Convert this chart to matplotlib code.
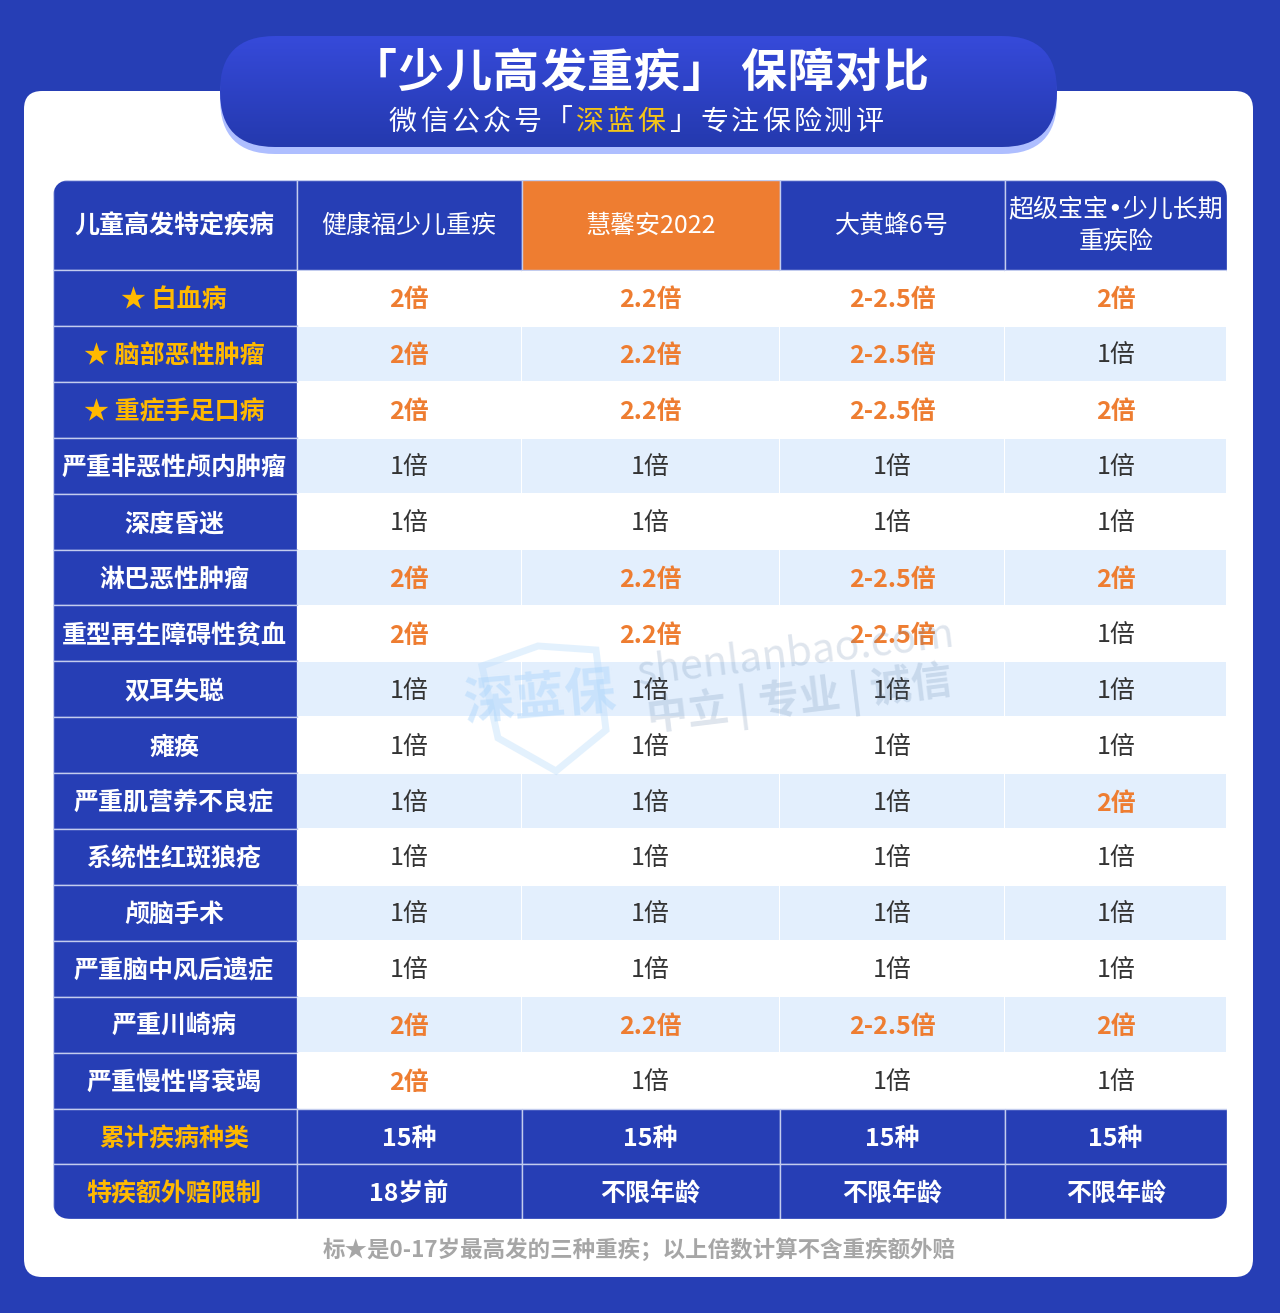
import numpy as np
import matplotlib
matplotlib.use("Agg")
import matplotlib.pyplot as plt
from matplotlib.patches import FancyBboxPatch, Rectangle, Polygon

plt.rcParams["font.family"] = ["Noto Sans CJK SC", "DejaVu Sans"]

BLUE = "#263EB5"
GOLD = "#FFB900"
ORANGE = "#EE7D31"
LIGHT = "#E3EFFD"
LINE = "#C3CCEE"

products = ["健康福少儿重疾", "慧馨安2022", "大黄蜂6号", "超级宝宝•少儿长期\n重疾险"]
corner = "儿童高发特定疾病"
diseases = ["★ 白血病", "★ 脑部恶性肿瘤", "★ 重症手足口病", "严重非恶性颅内肿瘤", "深度昏迷",
            "淋巴恶性肿瘤", "重型再生障碍性贫血", "双耳失聪", "瘫痪", "严重肌营养不良症",
            "系统性红斑狼疮", "颅脑手术", "严重脑中风后遗症", "严重川崎病", "严重慢性肾衰竭"]
col_jkf = ["2倍", "2倍", "2倍", "1倍", "1倍", "2倍", "2倍", "1倍", "1倍", "1倍", "1倍", "1倍", "1倍", "2倍", "2倍"]
col_hxa = ["2.2倍", "2.2倍", "2.2倍", "1倍", "1倍", "2.2倍", "2.2倍", "1倍", "1倍", "1倍", "1倍", "1倍", "1倍", "2.2倍", "1倍"]
col_dhf = ["2-2.5倍", "2-2.5倍", "2-2.5倍", "1倍", "1倍", "2-2.5倍", "2-2.5倍", "1倍", "1倍", "1倍", "1倍", "1倍", "1倍", "2-2.5倍", "1倍"]
col_cjbb = ["2倍", "1倍", "2倍", "1倍", "1倍", "2倍", "1倍", "1倍", "1倍", "2倍", "1倍", "1倍", "1倍", "2倍", "1倍"]
footer_labels = ["累计疾病种类", "特疾额外赔限制"]
footer_count = ["15种", "15种", "15种", "15种"]
footer_age = ["18岁前", "不限年龄", "不限年龄", "不限年龄"]
note = "标★是0-17岁最高发的三种重疾；以上倍数计算不含重疾额外赔"

x_edges = [53, 296.5, 521.5, 779.5, 1004.5, 1227]
y_head = (180, 270)
row_h = 55.9
FT = 0.72  # px -> pt at dpi 100
FS = 25 * FT

fig = plt.figure(figsize=(12.8, 13.13), dpi=100, facecolor=BLUE)
ax = fig.add_axes([0, 0, 1, 1])
ax.set_xlim(0, 1280)
ax.set_ylim(1313, 0)
ax.axis("off")


def rrect(x0, y0, x1, y1, r, **kw):
    p = FancyBboxPatch((x0 + r, y0 + r), x1 - x0 - 2 * r, y1 - y0 - 2 * r,
                       boxstyle=f"round,pad={r},rounding_size={r}", lw=kw.pop("lw", 0), **kw)
    ax.add_patch(p)
    return p


def spaced(s, x0, pitch, y, px, colors=None, weight="normal"):
    # one glyph at a time, the reference has wide letter spacing
    for i, ch in enumerate(s):
        c = colors[i] if colors else "white"
        ax.text(x0 + pitch * i, y, ch, ha="center", va="center", color=c,
                fontsize=px * FT, fontweight=weight, zorder=5)


# card + title pill
rrect(24, 91, 1253, 1277, 18, fc="white", zorder=1)
rrect(220, 43, 1057, 154, 55, fc="#AEBEFF", zorder=2)
pill = rrect(220, 36, 1057, 147, 55, fc="none", zorder=3)
grad = np.linspace(0, 1, 120)[:, None, None] * (np.array([36, 57, 174]) - np.array([54, 74, 218])) \
    + np.array([54, 74, 218])
im = ax.imshow(grad / 255, extent=(220, 1057, 147, 36), aspect="auto", zorder=3)
im.set_clip_path(pill)
ax.set_xlim(0, 1280)
ax.set_ylim(1313, 0)

spaced("「少儿高发重疾」", 374, 47.2, 73, 46, weight="black")
spaced("保障对比", 763, 47.5, 73, 46, weight="black")
sub = "微信公众号「深蓝保」专注保险测评"
sub_colors = ["#F5C518" if ch in "深蓝保" and i < 9 else "white" for i, ch in enumerate(sub)]
spaced(sub, 403, 31.1, 122, 28, colors=sub_colors)

# table, everything clipped to a rounded outline
clip = FancyBboxPatch((53 + 18, 180 + 18), 1174 - 36, 1039 - 36,
                      boxstyle="round,pad=18,rounding_size=18", fc="none", lw=0,
                      transform=ax.transData)
ax.add_patch(clip)


def cell(x0, y0, x1, y1, fc, gap=0.0, ec=None):
    r = Rectangle((x0 + gap, y0 + gap), x1 - x0 - 2 * gap, y1 - y0 - 2 * gap, fc=fc,
                  ec=ec or "none", lw=1.0 if ec else 0, zorder=4)
    ax.add_patch(r)
    r.set_clip_path(clip)


columns = [col_jkf, col_hxa, col_dhf, col_cjbb]
n_rows = len(diseases)
y_rows = [y_head[1] + row_h * i for i in range(n_rows + 3)]
y_rows[-1] = 1219

# header row
cell(x_edges[0], y_head[0], x_edges[1], y_head[1], BLUE, ec=LINE)
ax.text(174, 226, corner, ha="center", va="center", color="white", fontsize=FS,
        fontweight="bold", zorder=6)
for j, name in enumerate(products):
    fc = ORANGE if j == 1 else BLUE
    cell(x_edges[j + 1], y_head[0], x_edges[j + 2], y_head[1], fc, ec=LINE)
    # DejaVu first here only for the narrow bullet of the last product
    ax.text((x_edges[j + 1] + x_edges[j + 2]) / 2, 226, name, ha="center", va="center",
            color="white", fontsize=FS, linespacing=1.42, zorder=6,
            family=["DejaVu Sans", "Noto Sans CJK SC"] if "•" in name else None)

# body rows
for i, name in enumerate(diseases):
    y0, y1 = y_rows[i], y_rows[i + 1]
    ym = (y0 + y1) / 2 + 2.5
    cell(x_edges[0], y0, x_edges[1], y1, BLUE, ec=LINE)
    star = name.startswith("★")
    ax.text(174, ym, name, ha="center", va="center", color=GOLD if star else "white",
            fontsize=FS, fontweight="bold", zorder=6)
    for j, col in enumerate(columns):
        xa, xb = x_edges[j + 1], x_edges[j + 2]
        cell(xa, y0, xb, y1, LIGHT if i % 2 else "white", gap=0.8)
        hot = col[i] != "1倍"
        ax.text((xa + xb) / 2, ym, col[i], ha="center", va="center",
                color=ORANGE if hot else "#333333", fontsize=FS,
                fontweight="bold" if hot else "normal", zorder=6)

# footer rows
for i, (label, vals) in enumerate(zip(footer_labels, (footer_count, footer_age))):
    y0, y1 = y_rows[n_rows + i], y_rows[n_rows + i + 1]
    ym = (y0 + y1) / 2 + 2.5
    cell(x_edges[0], y0, x_edges[1], y1, BLUE, ec=LINE)
    ax.text(174, ym, label, ha="center", va="center", color=GOLD, fontsize=FS,
            fontweight="bold", zorder=6)
    for j, v in enumerate(vals):
        xa, xb = x_edges[j + 1], x_edges[j + 2]
        cell(xa, y0, xb, y1, BLUE, ec=LINE)
        ax.text((xa + xb) / 2, ym, v, ha="center", va="center", color="white",
                fontsize=FS, fontweight="bold", zorder=6)

ax.text(639, 1250, note, ha="center", va="center", color="#A6A6A6", fontsize=22.5 * FT,
        fontweight="bold", zorder=6)

# watermark
shield = Polygon([(482, 666), (538, 646), (596, 650), (606, 730), (556, 771), (498, 738)],
                 closed=True, fc="none", ec="#BBDDFB", lw=5, alpha=0.4, zorder=7)
ax.add_patch(shield)
ax.text(540, 699, "深蓝保", ha="center", va="center", rotation=5, color="#A9D4FB", alpha=0.45,
        fontsize=51 * FT, fontweight="black", zorder=7)
ax.text(796, 654, "shenlanbao.com", ha="center", va="center", rotation=7, rotation_mode="anchor",
        color="#5D7FA8", alpha=0.2, fontsize=41 * FT, zorder=7)
ax.text(800, 700, "中立 | 专业 | 诚信", ha="center", va="center", rotation=7, rotation_mode="anchor",
        color="#5D7FA8", alpha=0.2, fontsize=41 * FT, fontweight="bold", zorder=7)

fig.savefig("out.png", dpi=100, facecolor=BLUE)
